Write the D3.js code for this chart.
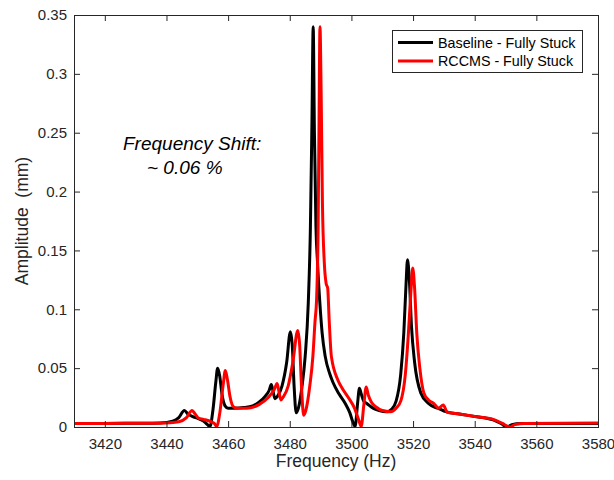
<!DOCTYPE html>
<html>
<head>
<meta charset="utf-8">
<script src="https://cdn.jsdelivr.net/npm/d3@7"></script>
<style>
  html, body { margin: 0; padding: 0; background: #fff; }
  svg { display: block; font-family: "Liberation Sans", Arial, Helvetica, sans-serif; }
</style>
</head>
<body>
<svg id="chart" width="614" height="480"></svg>
<script>
// ---------------- data ----------------
const seriesNames = ["Baseline - Fully Stuck", "RCCMS - Fully Stuck"];
const seriesColors = ["#000000", "#ff0000"];

const baselineFreq = [3410, 3420, 3430, 3438, 3442, 3444, 3445.8, 3447, 3448.5, 3450, 3452, 3453.3, 3454.1,
  3455.1, 3456, 3456.6, 3457.3, 3458, 3459, 3460, 3462, 3465, 3468, 3470, 3472, 3473.3, 3474, 3474.6, 3475.2,
  3476, 3477.5, 3479, 3480.2, 3480.8, 3481.4, 3482.1, 3482.8, 3484, 3485, 3486, 3486.7, 3487.2, 3487.6,
  3488, 3488.5, 3489, 3489.7, 3490.5, 3491.5, 3493, 3494, 3496, 3498, 3499.5, 3500.5, 3501.2, 3502, 3502.6,
  3503.2, 3504, 3505, 3507, 3509, 3511.5, 3513, 3514.5, 3516, 3517, 3517.7, 3518.2, 3518.8, 3519.5, 3520.5,
  3522.5, 3525, 3526.8, 3528, 3530.6, 3535, 3540, 3546, 3548.5, 3550.6, 3552, 3555, 3565, 3580];
const baselineAmp = [0.003, 0.003, 0.0032, 0.0035, 0.005, 0.008, 0.014, 0.011, 0.0088, 0.0075, 0.005, 0.002, 0.0003,
  0.015, 0.038, 0.050, 0.043, 0.028, 0.018, 0.016, 0.016, 0.0165, 0.018, 0.021, 0.026, 0.031, 0.036, 0.030, 0.024,
  0.026, 0.035, 0.055, 0.081, 0.070, 0.035, 0.012, 0.016, 0.035, 0.060, 0.105, 0.170, 0.260, 0.340,
  0.250, 0.170, 0.140, 0.108, 0.080, 0.060, 0.045, 0.038, 0.028, 0.020, 0.012, 0.004, 0.0005, 0.020, 0.033,
  0.028, 0.022, 0.020, 0.016, 0.014, 0.013, 0.015, 0.022, 0.045, 0.080, 0.120, 0.142, 0.125, 0.085, 0.055,
  0.029, 0.020, 0.017, 0.016, 0.013, 0.011, 0.009, 0.006, 0.003, 0.0, 0.002, 0.003, 0.003, 0.003];

const rccmsFreq = [3410, 3420, 3430, 3440, 3444, 3446.5, 3448.3, 3449.3, 3450.4, 3452, 3454.5, 3455.5, 3456.3,
  3457.3, 3458.4, 3459.1, 3459.8, 3460.6, 3461.8, 3463, 3466, 3470, 3473, 3475, 3475.9, 3476.5, 3477.1,
  3478, 3479.5, 3481, 3482.6, 3483.2, 3483.8, 3484.5, 3485.2, 3486.5, 3487.5, 3488.2, 3488.7, 3489.2, 3489.5,
  3489.8, 3490.2, 3490.6, 3491.2, 3491.8, 3492.3, 3492.8, 3493.5, 3495.6, 3497, 3499, 3501, 3502.5, 3503.2,
  3504, 3504.8, 3505.5, 3506.5, 3508, 3510, 3512.7, 3514.5, 3516, 3517.5, 3518.5, 3519.3, 3519.9, 3520.5,
  3521.2, 3522.2, 3523.5, 3525, 3526.7, 3528.3, 3529.8, 3531.1, 3535, 3540, 3546, 3549, 3551.5, 3553, 3556, 3580];
const rccmsAmp = [0.003, 0.003, 0.0032, 0.0035, 0.0045, 0.008, 0.014, 0.011, 0.0075, 0.0065, 0.0045, 0.003, 0.0005,
  0.012, 0.036, 0.048, 0.040, 0.026, 0.017, 0.016, 0.016, 0.019, 0.025, 0.032, 0.037, 0.030, 0.023,
  0.026, 0.035, 0.055, 0.082, 0.070, 0.035, 0.010, 0.014, 0.035, 0.060, 0.090, 0.108, 0.170, 0.260,
  0.340, 0.280, 0.190, 0.140, 0.122, 0.118, 0.090, 0.060, 0.040, 0.033, 0.025, 0.016, 0.005, 0.0005,
  0.018, 0.034, 0.027, 0.021, 0.017, 0.014, 0.013, 0.016, 0.022, 0.045, 0.080, 0.115, 0.135, 0.118,
  0.080, 0.050, 0.029, 0.023, 0.020, 0.016, 0.0187, 0.0125, 0.011, 0.009, 0.0065, 0.003, 0.0, 0.002, 0.003, 0.0035];

const xTicks = [3420, 3440, 3460, 3480, 3500, 3520, 3540, 3560, 3580];
const yTicks = [0, 0.05, 0.1, 0.15, 0.2, 0.25, 0.3, 0.35];
const yTickLabels = ["0", "0.05", "0.1", "0.15", "0.2", "0.25", "0.3", "0.35"];
const xDomain = [3410, 3580];
const yDomain = [0, 0.35];
const xLabel = "Frequency (Hz)";
const yLabel = "Amplitude  (mm)";
const annotation = ["Frequency Shift:", "~ 0.06 %"];

// ---------------- drawing ----------------
const svg = d3.select("#chart");
const margin = {left: 74, top: 15, right: 16, bottom: 53};
const W = 614, H = 480;
const x = d3.scaleLinear().domain(xDomain).range([margin.left, W - margin.right]);
const y = d3.scaleLinear().domain(yDomain).range([H - margin.bottom, margin.top]);
const axisColor = "#262626";

// clip
svg.append("defs").append("clipPath").attr("id", "clip").append("rect")
  .attr("x", x.range()[0]).attr("y", y.range()[1])
  .attr("width", x.range()[1] - x.range()[0]).attr("height", y.range()[0] - y.range()[1]);

const series = [
  {f: baselineFreq, a: baselineAmp},
  {f: rccmsFreq, a: rccmsAmp}
];
const line = d3.line().x(d => x(d[0])).y(d => y(d[1])).curve(d3.curveMonotoneX);
const gLines = svg.append("g").attr("clip-path", "url(#clip)");
series.forEach((s, i) => {
  const pts = s.f.map((f, k) => [f, s.a[k]]);
  gLines.append("path").datum(pts)
    .attr("d", line).attr("fill", "none")
    .attr("stroke", seriesColors[i]).attr("stroke-width", 3)
    .attr("stroke-linejoin", "round").attr("stroke-linecap", "round");
});

// axes
function styleAxis(g) {
  g.select(".domain").remove();
  g.selectAll(".tick line").attr("stroke", axisColor).attr("stroke-width", 1);
  g.selectAll(".tick text").attr("fill", axisColor).attr("font-size", 15)
    .attr("font-family", "'Liberation Sans', Arial, sans-serif");
}
const tl = 6;
svg.append("g").attr("transform", `translate(0,${y(0)})`)
  .call(d3.axisBottom(x).tickValues(xTicks).tickSize(-tl).tickPadding(11).tickFormat(d3.format("d")))
  .call(styleAxis);
svg.append("g").attr("transform", `translate(0,${y.range()[1]})`)
  .call(d3.axisTop(x).tickValues(xTicks).tickSize(-tl).tickFormat(""))
  .call(styleAxis);
svg.append("g").attr("transform", `translate(${x.range()[0]},0)`)
  .call(d3.axisLeft(y).tickValues(yTicks).tickSize(-tl).tickPadding(7).tickFormat((d, i) => yTickLabels[i]))
  .call(styleAxis);
svg.append("g").attr("transform", `translate(${x.range()[1]},0)`)
  .call(d3.axisRight(y).tickValues(yTicks).tickSize(-tl).tickFormat(""))
  .call(styleAxis);

// box
svg.append("rect")
  .attr("x", x.range()[0] + 0.5).attr("y", y.range()[1] + 0.5)
  .attr("width", x.range()[1] - x.range()[0]).attr("height", y.range()[0] - y.range()[1])
  .attr("fill", "none").attr("stroke", axisColor).attr("stroke-width", 1);

// axis labels
svg.append("text").attr("x", (x.range()[0] + x.range()[1]) / 2).attr("y", 467)
  .attr("text-anchor", "middle").attr("font-size", 17.5).attr("fill", axisColor).text(xLabel);
svg.append("text")
  .attr("transform", `translate(28,${(y.range()[0] + y.range()[1]) / 2}) rotate(-90)`)
  .attr("text-anchor", "middle").attr("font-size", 17.5).attr("fill", axisColor)
  .style("white-space", "pre").text(yLabel);

// annotation
svg.append("text").attr("x", 123).attr("y", 150).attr("font-style", "italic")
  .attr("font-size", 19).attr("fill", "#000").text(annotation[0]);
svg.append("text").attr("x", 147).attr("y", 174).attr("font-style", "italic")
  .attr("font-size", 19).attr("fill", "#000").text(annotation[1]);

// legend
const lg = svg.append("g");
lg.append("rect").attr("x", 392.5).attr("y", 30.5).attr("width", 190).attr("height", 42)
  .attr("fill", "#fff").attr("stroke", axisColor).attr("stroke-width", 1);
seriesNames.forEach((name, i) => {
  const yy = 42.5 + i * 18.5;
  lg.append("line").attr("x1", 398).attr("x2", 433).attr("y1", yy).attr("y2", yy)
    .attr("stroke", seriesColors[i]).attr("stroke-width", 3);
  lg.append("text").attr("x", 438).attr("y", yy + 5).attr("font-size", 14.3)
    .attr("fill", "#000").text(name);
});
</script>
</body>
</html>
